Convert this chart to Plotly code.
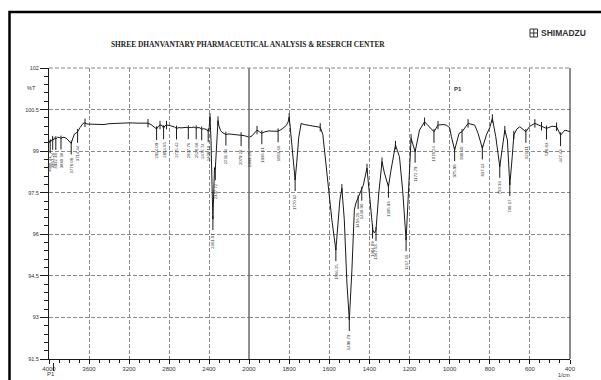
import numpy as np
import plotly.graph_objects as go

# ---------------- data ----------------
wavenumber = [4000, 3994, 3988, 3980, 3972, 3963, 3955, 3945, 3932, 3915, 3895, 3880, 3860, 3840,
              3820, 3800, 3778, 3760, 3745, 3730, 3714, 3690, 3660, 3640, 3620, 3560, 3500, 3450,
              3400, 3300, 3200, 3100, 3040, 3010, 2980, 2955, 2924, 2905, 2890, 2870, 2854, 2840,
              2825, 2800, 2770, 2745, 2725, 2700, 2680, 2657, 2635, 2620, 2607, 2590, 2573, 2550,
              2528, 2510, 2490, 2473, 2455, 2430, 2408, 2398, 2390, 2380, 2370, 2361, 2352, 2345,
              2337, 2325, 2310, 2300, 2285, 2270, 2250, 2231, 2200, 2170, 2140, 2110, 2079, 2050,
              2020, 2000, 1985, 1972, 1960, 1948, 1936, 1920, 1900, 1880, 1855, 1835, 1815, 1805,
              1800, 1795, 1785, 1770, 1762, 1752, 1740, 1725, 1700, 1675, 1655, 1645, 1632, 1612,
              1600, 1587, 1567, 1553, 1547, 1537, 1525, 1512, 1500, 1487, 1475, 1467, 1456, 1442,
              1430, 1412, 1397, 1383, 1375, 1367, 1353, 1337, 1325, 1305, 1292, 1270, 1250, 1233,
              1217, 1203, 1192, 1172, 1150, 1125, 1108, 1078, 1058, 1033, 1017, 1000, 991, 975,
              953, 938, 908, 875, 858, 837, 817, 800, 787, 770, 750, 735, 725, 712, 700, 688, 680,
              665, 650, 620, 600, 575, 560, 542, 517, 490, 467, 447, 425, 400]
transmittance = [99.29, 99.36, 99.33, 99.40, 99.36, 99.45, 99.40, 99.48, 99.44, 99.50, 99.49, 99.46,
                 99.50, 99.49, 99.44, 99.36, 99.28, 99.48, 99.62, 99.65, 99.70, 99.85, 100.00, 100.02,
                 99.98, 99.97, 99.95, 99.96, 99.99, 100.01, 100.02, 100.01, 100.00, 100.01, 99.96,
                 99.90, 99.80, 99.90, 99.94, 99.93, 99.83, 99.92, 99.94, 99.93, 99.90, 99.87, 99.82,
                 99.85, 99.84, 99.85, 99.88, 99.86, 99.83, 99.86, 99.85, 99.87, 99.83, 99.85, 99.84,
                 99.79, 99.81, 99.79, 99.72, 99.85, 100.22, 99.40, 97.80, 96.55, 97.60, 98.40, 98.35,
                 99.30, 100.10, 99.90, 99.75, 99.68, 99.63, 99.60, 99.62, 99.61, 99.60, 99.59, 99.58,
                 99.56, 99.53, 99.50, 99.55, 99.66, 99.76, 99.70, 99.65, 99.70, 99.73, 99.72, 99.72,
                 99.80, 99.92, 100.05, 100.22, 99.90, 99.00, 97.96, 98.60, 99.50, 100.00, 99.96,
                 99.93, 99.91, 99.88, 99.86, 99.60, 98.21, 97.40, 96.52, 95.43, 96.52, 97.24, 97.66,
                 96.52, 94.24, 92.91, 94.71, 96.88, 97.13, 97.31, 97.53, 97.78, 98.39, 97.35, 96.16,
                 96.05, 96.16, 97.49, 98.62, 98.21, 97.72, 98.32, 99.22, 98.80, 97.49, 95.79, 98.08,
                 99.46, 98.98, 99.76, 100.06, 99.94, 99.70, 99.94, 99.96, 99.94, 99.85, 99.52, 99.04,
                 99.64, 99.70, 100.00, 99.94, 99.64, 99.10, 99.58, 99.85, 100.18, 99.52, 98.44, 99.20,
                 99.76, 99.40, 97.78, 98.80, 99.58, 99.80, 99.88, 99.70, 99.90, 100.00, 99.95, 99.90,
                 99.82, 99.90, 99.88, 99.58, 99.76, 99.70]

peak_wn = [3988, 3963, 3932, 3880, 3778, 3714, 2924, 2854, 2725, 2607, 2528, 2473, 2408, 2361,
           2337, 2231, 2079, 2000, 1936, 1855, 1770, 1567, 1500, 1456, 1438, 1384, 1367, 1305,
           1217, 1172, 1078, 975, 938, 837, 750, 700, 620, 517, 447]
peak_text = ["3988.31", "3963.24", "3932.38", "3880.30", "3778.08", "3714.44", "2924.09", "2854.65",
             "2725.42", "2607.76", "2528.68", "2472.74", "2408.10", "2361.87", "2337.72", "2231.64",
             "2079.26", "1999.25", "1936.61", "1853.66", "1770.62", "1566.25", "1498.79", "1456.26",
             "1438.90", "1384.89", "1367.53", "1305.93", "1217.16", "1172.79", "1078.24", "975.98",
             "938.40", "837.14", "750.36", "700.17", "621.11", "518.83", "447.43"]
max_wn = [3640, 3010, 2890, 2825, 2390, 2310, 1960, 1800, 1645, 1537, 1412, 1337, 1270, 1192,
          1125, 1058, 908, 787, 725, 680, 575, 542, 467]

x_left_ticks = [4000, 3600, 3200, 2800, 2400, 2000]
x_right_ticks = [1800, 1600, 1400, 1200, 1000, 800, 600, 400]
y_tick_vals = [91.5, 93, 94.5, 96, 97.5, 99, 100.5, 102]
y_tick_text = ["91.5", "93", "94.5", "96", "97.5", "99", "100.5", "102"]

title_text = "SHREE DHANVANTARY PHARMACEUTICAL ANALYSIS & RESERCH CENTER"

# ---------------- layout helpers ----------------
W, H = 601, 380
def PX(x):
    return x / W
def PY(y):
    return 1 - y / H

X_L, X_M, X_R = 49, 249, 570
Y_T, Y_B = 68, 359

wn = np.array(wavenumber, dtype=float)
T = np.array(transmittance, dtype=float)
asc_wn, asc_T = wn[::-1], T[::-1]

INK = "#1a1a1a"
fig = go.Figure()

left = wn >= 2000
right = wn <= 2000
fig.add_trace(go.Scatter(x=wn[left], y=T[left], xaxis="x", yaxis="y", mode="lines",
                         line=dict(color=INK, width=1), hoverinfo="skip"))
fig.add_trace(go.Scatter(x=wn[right], y=T[right], xaxis="x2", yaxis="y", mode="lines",
                         line=dict(color=INK, width=1), hoverinfo="skip"))

# peak ticks
segs = {"x": ([], []), "x2": ([], [])}
annotations = []
for p, txt in zip(peak_wn, peak_text):
    t = float(np.interp(p, asc_wn, asc_T))
    ax = "x" if p >= 2000 else "x2"
    xs, ys = segs[ax]
    xs += [p, p, None]
    ys += [t + 0.1, t - 0.40, None]
    annotations.append(dict(x=p, y=t - 0.43, xref=ax, yref="y", text=txt, textangle=-90,
                            showarrow=False, xanchor="center", yanchor="top",
                            font=dict(size=4.3, color="#333", family="Liberation Sans")))
for ax, (xs, ys) in segs.items():
    fig.add_trace(go.Scatter(x=xs, y=ys, xaxis=ax, yaxis="y", mode="lines",
                             line=dict(color=INK, width=1), hoverinfo="skip"))

# marks at maxima
for ax, sel in (("x", [m for m in max_wn if m >= 2000]), ("x2", [m for m in max_wn if m < 2000])):
    tv = [float(np.interp(m, asc_wn, asc_T)) for m in sel]
    fig.add_trace(go.Scatter(x=sel, y=tv, xaxis=ax, yaxis="y", mode="markers",
                             marker=dict(symbol="line-ns", size=6, line=dict(width=1, color=INK)),
                             hoverinfo="skip"))

tickfont = dict(size=6, color="#333", family="Liberation Sans")
common_x = dict(showline=True, linecolor=INK, linewidth=1, ticks="outside", ticklen=4,
                tickcolor=INK, showgrid=True, gridcolor="#8a8a8a", griddash="4px,2px",
                gridwidth=1, zeroline=False, tickfont=tickfont, anchor="y", fixedrange=True)

fig.update_layout(
    width=W, height=H, margin=dict(l=0, r=0, t=0, b=0, autoexpand=False),
    paper_bgcolor="white", plot_bgcolor="white", showlegend=False,
    xaxis=dict(domain=[PX(X_L), PX(X_M)], range=[4000, 2000], tickmode="array",
               tickvals=x_left_ticks,
               minor=dict(tickmode="linear", tick0=0, dtick=100, ticks="outside", ticklen=3,
                          tickcolor=INK, showgrid=False), **common_x),
    xaxis2=dict(domain=[PX(X_M), PX(X_R)], range=[2000, 400], tickmode="array",
                tickvals=x_right_ticks,
                minor=dict(tickmode="linear", tick0=0, dtick=50, ticks="outside", ticklen=3,
                           tickcolor=INK, showgrid=False), **common_x),
    yaxis=dict(domain=[PY(Y_B), PY(Y_T)], range=[91.5, 102], tickmode="array",
               tickvals=y_tick_vals, ticktext=y_tick_text, ticks="outside", ticklen=8,
               tickcolor=INK, showline=True, linecolor=INK, linewidth=1, showgrid=True,
               gridcolor="#8a8a8a", griddash="4px,2px", gridwidth=1, zeroline=False,
               tickfont=dict(size=5.5, color="#333", family="Liberation Sans"),
               minor=dict(tickmode="linear", tick0=91.5, dtick=0.3, ticks="outside", ticklen=4,
                          tickcolor=INK, showgrid=False), fixedrange=True),
)

shapes = [
    # outer border
    dict(type="rect", xref="paper", yref="paper", x0=PX(9.5), x1=1.05, y0=-0.05, y1=PY(12),
         line=dict(color="black", width=2.5)),
    # 2000 divider
    dict(type="line", xref="paper", yref="paper", x0=PX(X_M), x1=PX(X_M), y0=PY(Y_B), y1=PY(Y_T),
         line=dict(color="#6a6a6a", width=1.5)),
    # right frame
    dict(type="line", xref="paper", yref="paper", x0=PX(X_R), x1=PX(X_R), y0=PY(Y_B), y1=PY(Y_T),
         line=dict(color=INK, width=1)),
    # top dashed
    dict(type="line", xref="paper", yref="paper", x0=PX(X_L), x1=PX(X_R), y0=PY(Y_T), y1=PY(Y_T),
         line=dict(color="#8a8a8a", width=1, dash="4px,2px")),
    # bar next to 4000
    dict(type="line", xref="paper", yref="paper", x0=PX(53.5), x1=PX(53.5), y0=PY(363), y1=PY(371),
         line=dict(color=INK, width=1)),
    # SHIMADZU icon
    dict(type="rect", xref="paper", yref="paper", x0=PX(530), x1=PX(537.5), y0=PY(37), y1=PY(29),
         line=dict(color="#333", width=1)),
    dict(type="line", xref="paper", yref="paper", x0=PX(533.75), x1=PX(533.75), y0=PY(37), y1=PY(29),
         line=dict(color="#333", width=1)),
    dict(type="line", xref="paper", yref="paper", x0=PX(530), x1=PX(537.5), y0=PY(33), y1=PY(33),
         line=dict(color="#333", width=1)),
]

annotations += [
    dict(x=PX(248), y=PY(44.5), xref="paper", yref="paper", text="<b>" + title_text + "</b>",
         showarrow=False, xanchor="center", yanchor="middle",
         font=dict(size=7.4, color="#222", family="Liberation Serif")),
    dict(x=PX(539), y=PY(33), xref="paper", yref="paper", text="<b>SHIMADZU</b>",
         showarrow=False, xanchor="left", yanchor="middle",
         font=dict(size=8.5, color="#333", family="Liberation Sans")),
    dict(x=PX(31.5), y=PY(88), xref="paper", yref="paper", text="%T", showarrow=False,
         xanchor="center", yanchor="middle", font=dict(size=5.5, color="#333", family="Liberation Sans")),
    dict(x=PX(452), y=PY(89), xref="paper", yref="paper", text="<b>P1</b>", showarrow=False,
         xanchor="left", yanchor="middle", font=dict(size=6, color="#333", family="Liberation Sans")),
    dict(x=PX(51.5), y=PY(374), xref="paper", yref="paper", text="P1", showarrow=False,
         xanchor="center", yanchor="middle", font=dict(size=6, color="#333", family="Liberation Sans")),
    dict(x=PX(564), y=PY(374.5), xref="paper", yref="paper", text="1/cm", showarrow=False,
         xanchor="center", yanchor="middle", font=dict(size=5.5, color="#333", family="Liberation Sans")),
]

fig.update_layout(shapes=shapes, annotations=annotations)
fig.write_html("out.html", config={"displayModeBar": False},
               post_script="document.body.style.margin='0px';document.body.style.overflow='hidden';")
